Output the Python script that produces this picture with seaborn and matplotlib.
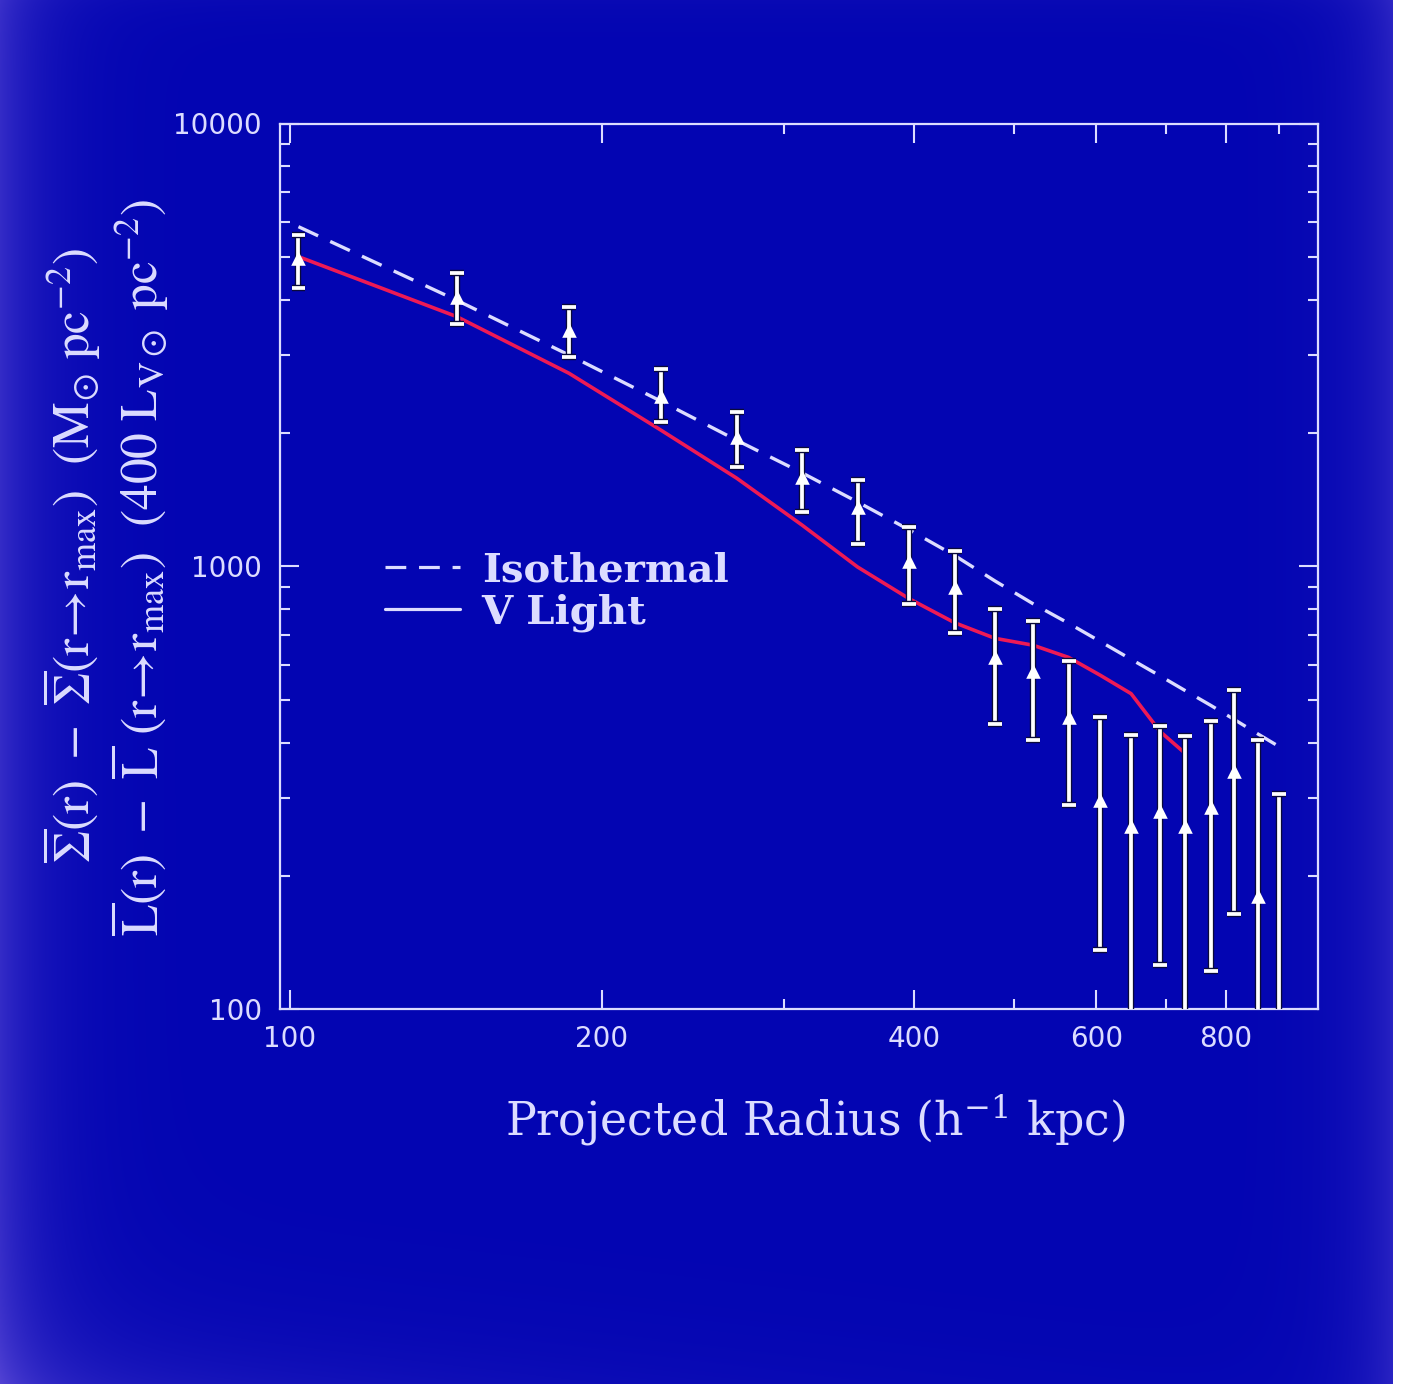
import numpy as np
import pandas as pd
import matplotlib
matplotlib.use("Agg")
import matplotlib.pyplot as plt
import seaborn as sns
from matplotlib import patheffects as pe
from matplotlib.ticker import FixedLocator, FixedFormatter, NullFormatter

# Projected radius of each annulus (h^-1 kpc)
radius = [102, 145, 186, 228, 270, 312, 353, 396, 438, 479,
          521, 564, 605, 648, 691, 731, 774, 815, 858, 900]
# Surface density contrast and its 1-sigma range (M_sun pc^-2)
sigma = [4960, 4060, 3420, 2420, 1960, 1590, 1360, 1030, 900, 623,
         580, 456, 297, 259, 281, 259, 286, 345, 180, 80]
sigma_hi = [5600, 4600, 3860, 2790, 2235, 1830, 1570, 1230, 1086, 801,
            752, 612, 456, 417, 436, 413, 448, 526, 406, 307]
sigma_lo = [4245, 3526, 2975, 2122, 1674, 1329, 1126, 823, 707, 440,
            406, 289, 136, 50, 126, 50, 122, 164, 50, 50]
# Isothermal model at each radius
isothermal = [5848, 3988, 3001, 2362, 1926, 1627, 1398, 1209, 1058, 927,
              824, 744, 677, 617, 566, 524, 485, 451, 419, 392]
# V-band light contrast (400 L_V,sun pc^-2)
light_radius = radius[:16]
v_light = [5004, 3663, 2729, 2032, 1581, 1240, 997, 845, 746, 688,
           664, 623, 568, 516, 424, 378]

x_ticks = [100, 200, 400, 600, 800]
x_minor = [300, 500, 700, 900]
y_ticks = [100, 1000, 10000]
y_minor = [200, 300, 400, 500, 600, 700, 800, 900,
           2000, 3000, 4000, 5000, 6000, 7000, 8000, 9000]

INK = "#dcdcff"
RED = "#ee1a55"

sns.set_style("ticks")
plt.rcParams["font.family"] = ["DejaVu Sans"]

W, H = 1404, 1384
fig = plt.figure(figsize=(W / 100, H / 100), dpi=100)
fig.patch.set_facecolor("#0305b2")

# slide background: deep blue with a lighter haze toward the edges
base = np.array([3, 5, 178]) / 255
haze = np.array([125, 100, 230]) / 255
gx = np.arange(W)[None, :].astype(float)
gy = np.arange(H)[:, None].astype(float)
alpha = (0.40 * np.exp(-gx / 45)
         + 0.30 * np.exp(-np.clip(1392 - gx, 0, None) / 40)
         + 0.25 * np.exp(-(H - gy) / 60) * np.exp(-gx / 500)
         + 0.05 * np.exp(-gy / 20))
alpha = np.clip(alpha, 0, 0.7)[..., None]
bg = base * (1 - alpha) + haze * alpha
bg[:, 1393:] = 1.0
fig.figimage(bg, xo=0, yo=0, origin="upper", zorder=-10)

ax = fig.add_axes([280 / W, 1 - 1009.3 / H, (1318.3 - 280) / W, (1009.3 - 123.5) / H])
ax.set_zorder(2)
ax.set_facecolor("none")
ax.set_xscale("log")
ax.set_yscale("log")

profile = pd.DataFrame({"radius": radius, "sigma": sigma,
                        "sigma_hi": sigma_hi, "sigma_lo": sigma_lo,
                        "isothermal": isothermal})
light = pd.DataFrame({"radius": light_radius, "v_light": v_light})

sns.lineplot(data=profile, x="radius", y="isothermal", estimator=None, sort=False,
             color=INK, lw=2.4, linestyle=(0, (6.5, 4)), label="Isothermal",
             ax=ax, zorder=3)
sns.lineplot(data=light, x="radius", y="v_light", estimator=None, sort=False,
             color=RED, lw=2.6, label="V Light", ax=ax, zorder=3)

outline = [pe.Stroke(linewidth=4.6, foreground="#0a0a3a"), pe.Normal()]
eb = ax.errorbar(profile["radius"], profile["sigma"],
                 yerr=[profile["sigma"] - profile["sigma_lo"],
                       profile["sigma_hi"] - profile["sigma"]],
                 fmt="none", ecolor="white", elinewidth=2.7,
                 capsize=5, capthick=2.7, zorder=4)
for c in eb[1]:
    c.set_path_effects(outline)
for c in eb[2]:
    c.set_path_effects(outline)
sns.scatterplot(data=profile, x="radius", y="sigma", marker="^", s=110,
                color="white", edgecolor="white", linewidth=0, legend=False,
                ax=ax, zorder=5)

ax.set_xlim(97.9, 982)
ax.set_ylim(100, 10000)
ax.xaxis.set_major_locator(FixedLocator(x_ticks))
ax.xaxis.set_major_formatter(FixedFormatter([str(v) for v in x_ticks]))
ax.xaxis.set_minor_locator(FixedLocator(x_minor))
ax.xaxis.set_minor_formatter(NullFormatter())
ax.yaxis.set_major_locator(FixedLocator(y_ticks))
ax.yaxis.set_major_formatter(FixedFormatter([str(v) for v in y_ticks]))
ax.yaxis.set_minor_locator(FixedLocator(y_minor))
ax.yaxis.set_minor_formatter(NullFormatter())
ax.tick_params(which="both", direction="in", top=True, right=True,
               color=INK, width=1.5)
ax.tick_params(which="major", length=14)
ax.tick_params(which="minor", length=7)
ax.tick_params(axis="x", which="major", pad=11, labelsize=20, labelcolor=INK)
ax.tick_params(axis="y", which="major", pad=13, labelsize=20, labelcolor=INK)
for s in ax.spines.values():
    s.set_color(INK)
    s.set_linewidth(1.6)
ax.set_xlabel("")
ax.set_ylabel("")

fig.text(815 / W, 1 - 1120 / H, r"Projected Radius (h$^{-1}$ kpc)",
         ha="center", va="center", color=INK, fontsize=33,
         family="DejaVu Serif", math_fontfamily="dejavuserif")

ylab1 = (r"$\overline{\Sigma}(\mathrm{r})\ -\ \overline{\Sigma}(\mathrm{r}\!\rightarrow\!"
         r"\mathrm{r}_{\mathrm{max}})\ \ (\mathrm{M}_{\odot}\ \mathrm{pc}^{-2})$")
ylab2 = (r"$\overline{\mathrm{L}}(\mathrm{r})\ -\ \overline{\mathrm{L}}\ (\mathrm{r}\!\rightarrow\!"
         r"\mathrm{r}_{\mathrm{max}})\ \ (400\ \mathrm{L}_{\mathrm{V}\odot}\ \mathrm{pc}^{-2})$")
fig.text(72 / W, 1 - 556 / H, ylab1, rotation=90, ha="center", va="center",
         color=INK, fontsize=37, math_fontfamily="stix")
fig.text(140 / W, 1 - 567 / H, ylab2, rotation=90, ha="center", va="center",
         color=INK, fontsize=37, math_fontfamily="stix")

handles, labels = ax.get_legend_handles_labels()
leg = ax.legend(handles, labels, loc="upper left",
                bbox_to_anchor=(385 / W, 1 - 551 / H), bbox_transform=fig.transFigure,
                frameon=False, borderpad=0, borderaxespad=0,
                handlelength=1.85, handletextpad=0.55, labelspacing=0.1,
                prop={"family": "DejaVu Serif", "weight": "bold", "size": 29})
for t in leg.get_texts():
    t.set_color(INK)
for ln in leg.get_lines():
    ln.set_color(INK)
    ln.set_linewidth(2.3)

fig.savefig("out.png", dpi=100)
